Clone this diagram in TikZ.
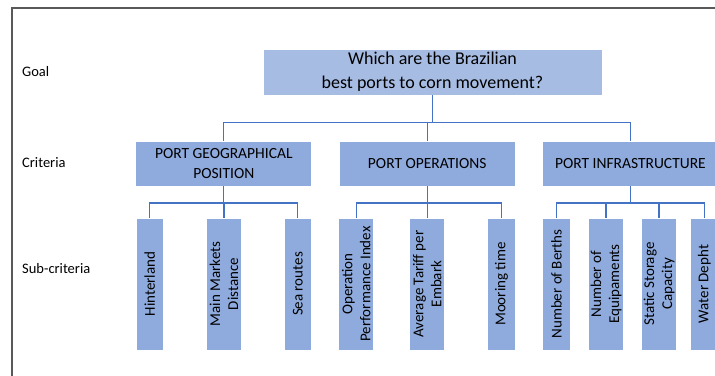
\documentclass[tikz,border=0pt]{standalone}
\usepackage{fontspec}
\setmainfont{Carlito}
\definecolor{goalblue}{HTML}{A7BCE3}
\definecolor{critblue}{HTML}{8FAADC}
\definecolor{linkblue}{HTML}{4472C4}
\definecolor{framegray}{HTML}{595959}

\begin{document}
\begin{tikzpicture}[x=1pt,y=-1pt,
    goalbox/.style={fill=goalblue,draw=white,line width=0.8pt,minimum width=339pt,minimum height=46pt,inner sep=0pt,align=center,font=\fontsize{18}{24}\selectfont},
    critbox/.style={fill=critblue,draw=white,line width=0.8pt,minimum width=176pt,minimum height=45pt,inner sep=0pt,align=center,font=\fontsize{15.5}{19.5}\selectfont},
    subbox/.style={fill=critblue,draw=white,line width=0.8pt,minimum height=132pt,inner sep=0pt},
    subtext/.style={rotate=90,align=center,inner sep=0pt,font=\fontsize{15}{18}\selectfont},
    link/.style={linkblue,line width=1.3pt},
    level/.style={anchor=west,inner sep=0pt,font=\fontsize{14.5}{16}\selectfont}]
            \useasboundingbox (0,0) rectangle (715,375);
            \clip (0,0) rectangle (715,375);

            % frame
            \draw[framegray,line width=1.3pt] (12,376)--(12,8)--(716,8);

            % levels
            \node[level] (lgoal) at (22,72) {Goal};
            \node[level] (lcrit) at (22,163) {Criteria};
            \node[level] (lsub) at (22,269) {Sub-criteria};

            % goal
            \node[goalbox] (goal) at (432.5,72) {Which are the Brazilian\\best ports to corn movement?};

            % criteria
            \node[critbox] (geo) at (223.8,163.5) {PORT GEOGRAPHICAL\\POSITION};
            \node[critbox] (oper) at (427.2,163.5) {PORT OPERATIONS};
            \node[critbox] (infra) at (630.4,163.5) {PORT INFRASTRUCTURE};

            % sub-criteria
            \node[subbox,minimum width=27.6pt] (hint) at (149.8,284) {};
            \node[subbox,minimum width=34.8pt] (mark) at (224,284) {};
            \node[subbox,minimum width=27.6pt] (sea) at (297.8,284) {};
            \node[subbox,minimum width=34.8pt] (perf) at (356.2,284) {};
            \node[subbox,minimum width=34.8pt] (tariff) at (427.2,284) {};
            \node[subbox,minimum width=27.6pt] (moor) at (501.4,284) {};
            \node[subbox,minimum width=27.6pt] (berth) at (556.4,284) {};
            \node[subbox,minimum width=34.8pt] (equip) at (606.1,284) {};
            \node[subbox,minimum width=34.8pt] (stor) at (659.1,284) {};
            \node[subbox,minimum width=27.6pt] (depth) at (704.4,284) {};

            \node[subtext] (thint) at (hint) {Hinterland};
            \node[subtext] (tmark) at (mark) {Main Markets\\Distance};
            \node[subtext] (tsea) at (sea) {Sea routes};
            \node[subtext] (tperf) at (perf) {Operation\\Performance Index};
            \node[subtext] (ttariff) at (tariff) {Average Tariff per\\Embark};
            \node[subtext] (tmoor) at (moor) {Mooring time};
            \node[subtext] (tberth) at (berth) {Number of Berths};
            \node[subtext] (tequip) at (equip) {Number of\\Equipaments};
            \node[subtext] (tstor) at (stor) {Static Storage\\Capacity};
            \node[subtext] (tdepth) at (depth) {Water Depht};

            % links
            \foreach \c in {geo,oper,infra}{
                \draw[link] (goal.south)--++(0,27)-|(\c.north);
            }
            \foreach \s in {hint,mark,sea}{
                \draw[link] (geo.south)--++(0,16.5)-|(\s.north);
            }
            \foreach \s in {perf,tariff,moor}{
                \draw[link] (oper.south)--++(0,16.5)-|(\s.north);
            }
            \foreach \s in {berth,equip,stor,depth}{
                \draw[link] (infra.south)--++(0,16.5)-|(\s.north);
            }
        \end{tikzpicture}
\end{document}
